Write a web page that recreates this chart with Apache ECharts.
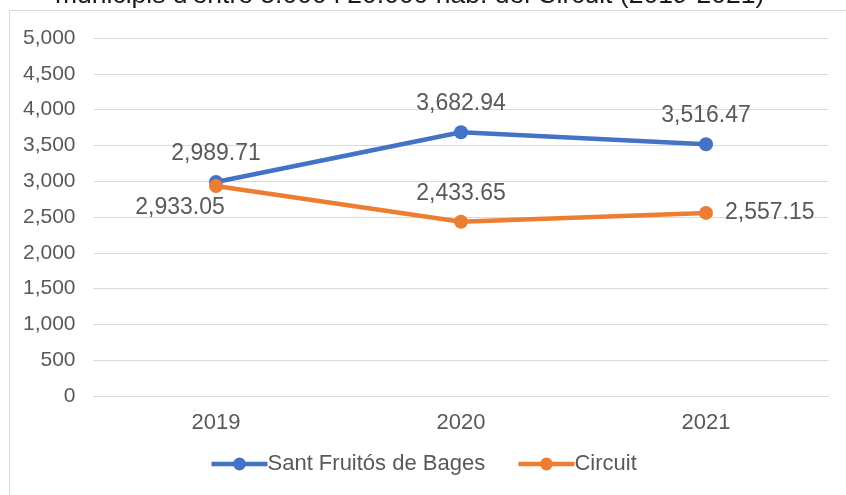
<!DOCTYPE html>
<html>
<head>
<meta charset="utf-8">
<script src="https://cdn.jsdelivr.net/npm/echarts@6/dist/echarts.min.js"></script>
<style>html,body{margin:0;padding:0;background:#fff;}#c{width:846px;height:495px;}</style>
</head>
<body>
<div id="c"></div>
<script>
const categories = ['2019', '2020', '2021'];
const santFruitos = [2989.71, 3682.94, 3516.47];
const circuit = [2933.05, 2433.65, 2557.15];
const titleText = "municipis d'entre 5.000 i 20.000 hab. del Circuit (2019-2021)";

const fmt = v => v.toLocaleString('en-US', {minimumFractionDigits: 2, maximumFractionDigits: 2});
const txt = '#595959';
const font = 'Liberation Sans, Arial, sans-serif';

const circuitLabelPos = [
  {position: 'bottom', offset: [-36, 0], distance: 3},
  {position: 'top', distance: 10},
  {position: 'right', distance: 12}
];

const chart = echarts.init(document.getElementById('c'));
chart.setOption({
  animation: false,
  textStyle: {fontFamily: font},
  graphic: [{
    type: 'rect', z: -1,
    shape: {x: 9.5, y: 10.5, width: 850, height: 500},
    style: {fill: 'none', stroke: '#D9D9D9', lineWidth: 1}
  }],
  title: {
    text: titleText, left: 50, top: -23,
    textStyle: {fontFamily: font, fontSize: 26.5, fontWeight: 'normal', color: '#1a1a1a'}
  },
  grid: {left: 93.5, right: 17.5, top: 38, bottom: 99, containLabel: false},
  xAxis: {
    type: 'category', data: categories, boundaryGap: true,
    axisLine: {lineStyle: {color: '#D9D9D9', width: 1}},
    axisTick: {show: false},
    axisLabel: {color: txt, fontSize: 22, margin: 16, fontFamily: font}
  },
  yAxis: {
    type: 'value', min: 0, max: 5000, interval: 500,
    axisLine: {show: false}, axisTick: {show: false},
    splitLine: {lineStyle: {color: '#D9D9D9', width: 1}},
    axisLabel: {color: txt, fontSize: 21, margin: 18, fontFamily: font,
      formatter: v => v.toLocaleString('en-US')}
  },
  legend: {
    bottom: 15, left: 'center', itemWidth: 56, itemHeight: 16, itemGap: 31,
    lineStyle: {width: 4.5},
    textStyle: {color: txt, fontSize: 22, fontFamily: font, padding: [0, 0, 0, -5]},
    data: ['Sant Fruitós de Bages', 'Circuit']
  },
  series: [
    {
      name: 'Sant Fruitós de Bages', type: 'line', data: santFruitos,
      color: '#4472C4', symbol: 'circle', symbolSize: 14,
      lineStyle: {width: 4.5, color: '#4472C4'},
      itemStyle: {color: '#4472C4'},
      label: {show: true, position: 'top', distance: 10, color: txt, fontSize: 23, fontFamily: font,
        formatter: p => fmt(p.value)}
    },
    {
      name: 'Circuit', type: 'line',
      data: circuit.map((v, i) => ({value: v, label: circuitLabelPos[i]})),
      color: '#ED7D31', symbol: 'circle', symbolSize: 14,
      lineStyle: {width: 4.5, color: '#ED7D31'},
      itemStyle: {color: '#ED7D31'},
      label: {show: true, color: txt, fontSize: 23, fontFamily: font,
        formatter: p => fmt(p.value)}
    }
  ]
});
</script>
</body>
</html>
